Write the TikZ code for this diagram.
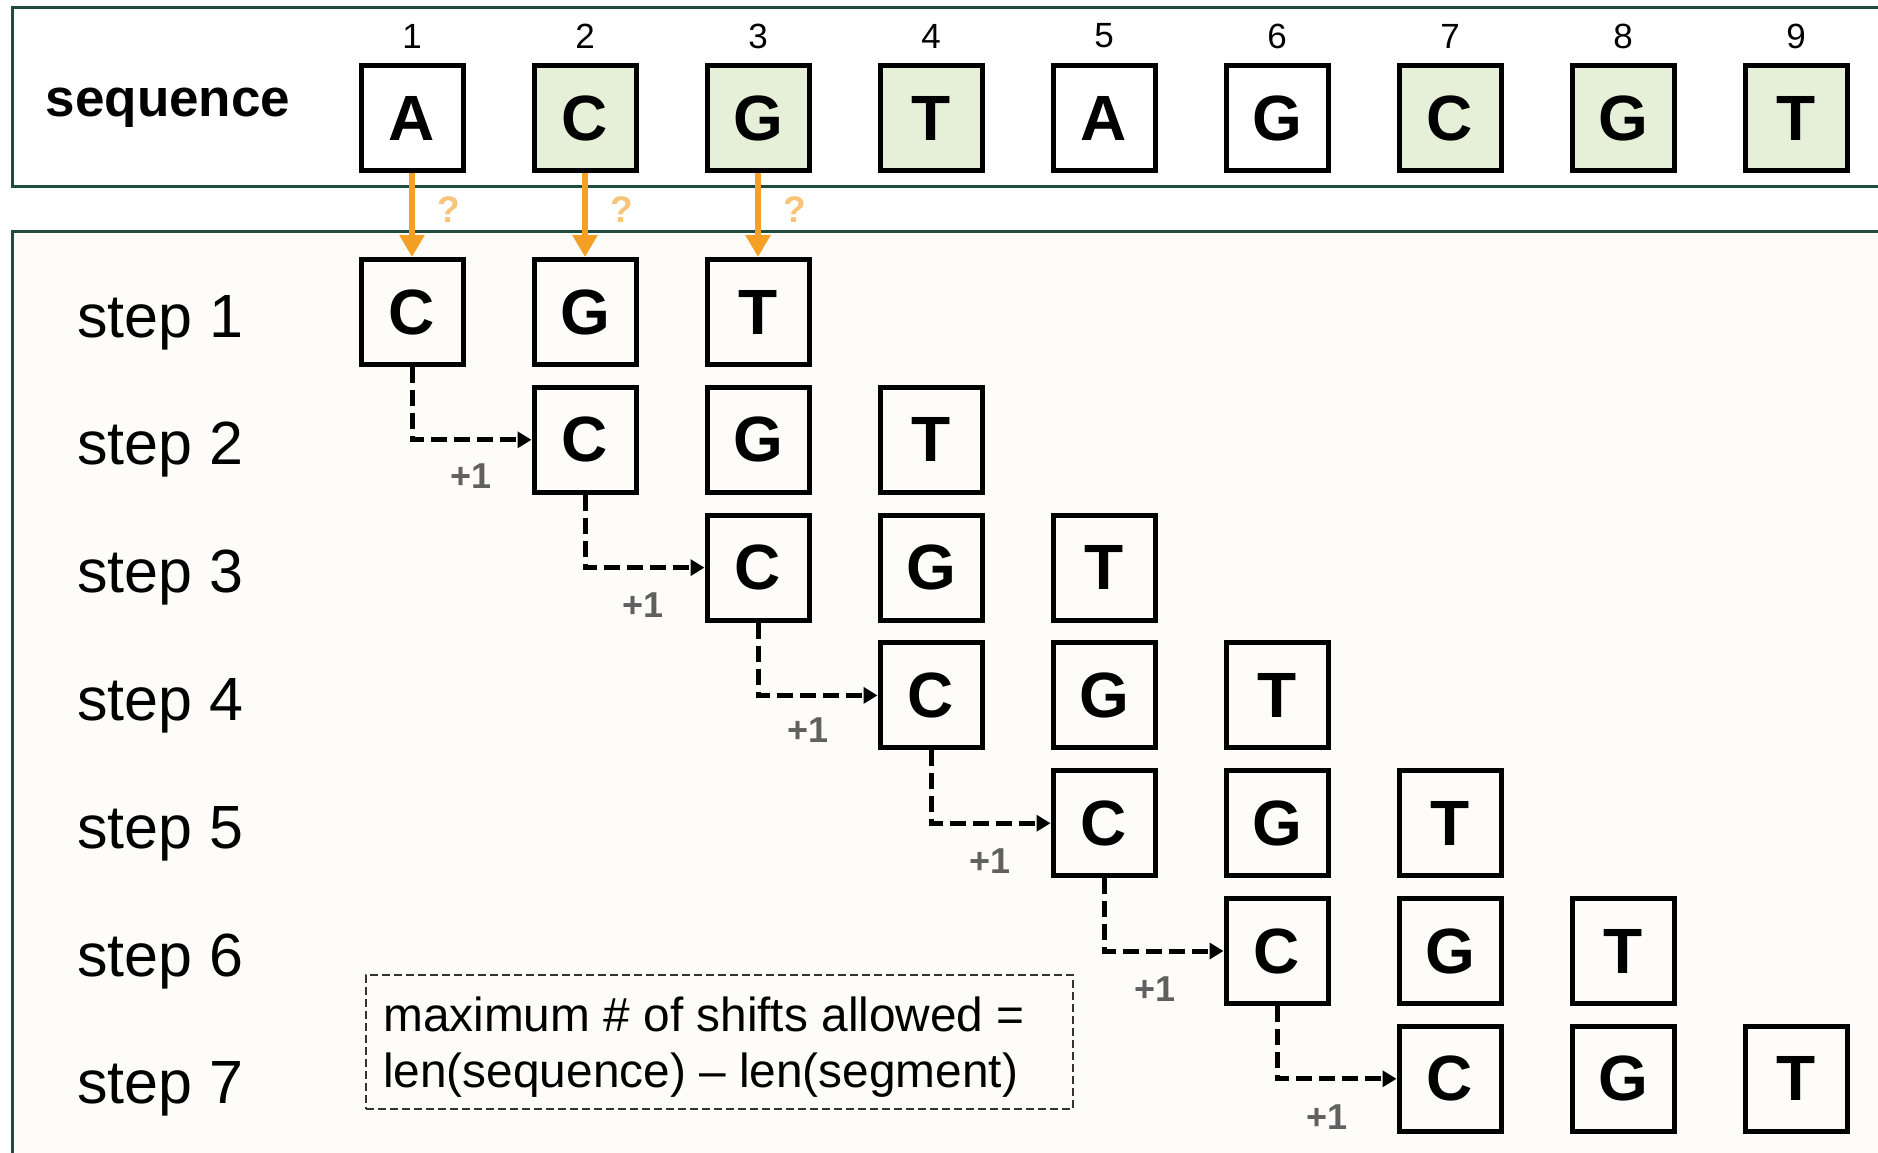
\documentclass[tikz,border=0pt]{standalone}
\usepackage{fontspec}
\setmainfont{Liberation Sans}
\usetikzlibrary{arrows.meta}
\definecolor{framegreen}{HTML}{1E4D3E}
\definecolor{seqgreen}{HTML}{E6F0D8}
\definecolor{cream}{HTML}{FDFCF8}
\definecolor{orangearrow}{HTML}{F4A024}
\definecolor{qmark}{HTML}{F8C478}
\definecolor{plusgray}{HTML}{606060}
\begin{document}
\begin{tikzpicture}[x=1pt,y=-1pt,
  letterbox/.style={draw=black, line width=5pt, minimum width=102pt, minimum height=105pt, inner sep=0pt, font=\fontsize{64}{64}\selectfont\bfseries},
  numlab/.style={font=\fontsize{35}{35}\selectfont, inner sep=0pt},
  steplab/.style={font=\fontsize{61}{61}\selectfont, anchor=base west, inner sep=0pt},
  seqlab/.style={font=\fontsize{53}{53}\selectfont\bfseries, inner sep=0pt, anchor=base},
  qlab/.style={font=\fontsize{37}{37}\selectfont\bfseries, text=qmark, inner sep=0pt},
  pluslab/.style={font=\fontsize{36}{36}\selectfont\bfseries, text=plusgray, inner sep=0pt},
  orangearr/.style={draw=orangearrow, line width=6pt, -{Triangle[length=22pt,width=24pt]}},
  shiftarr/.style={draw=black, line width=5pt, dash pattern=on 16pt off 7pt, -{Triangle[length=14pt,width=16pt]}},
  noteframe/.style={draw=black!80, line width=1.5pt, dash pattern=on 8pt off 4pt, minimum height=134pt, minimum width=707pt, inner sep=0pt, anchor=north west},
  notetext/.style={align=left, inner sep=0pt, font=\fontsize{47.8}{56}\selectfont, anchor=west},
  framebox/.style={draw=framegreen, line width=3pt}
]
\useasboundingbox (0,0) rectangle (1878,1152);
\clip (0,0) rectangle (1878,1152);
\fill[white] (0,0) rectangle (1878,1152);
% frames
\draw[framebox] (12,7) rectangle (1895,186);
\draw[framebox, fill=cream] (12,231) rectangle (1895,1170);
% sequence
\node[seqlab] (seqtitle) at (168,116) {sequence};
\foreach \i/\l/\c in {1/A/white,2/C/seqgreen,3/G/seqgreen,4/T/seqgreen,5/A/white,6/G/white,7/C/seqgreen,8/G/seqgreen,9/T/seqgreen}{
  \node[letterbox, fill=\c] (s\i) at ({412+173*(\i-1)},118) {\l};
  \node[numlab] (n\i) at ({412+173*(\i-1)},36) {\i};
}
% steps
\foreach \k in {1,...,7}{
  \pgfmathsetmacro{\yy}{312+127.8*(\k-1)}
  \pgfmathsetmacro{\xa}{412+173*(\k-1)}
  \node[steplab] (lab\k) at (77,\yy+25) {step \k};
  \node[letterbox, fill=cream] (r\k c) at (\xa,\yy) {C};
  \node[letterbox, fill=cream] (r\k g) at (\xa+173,\yy) {G};
  \node[letterbox, fill=cream] (r\k t) at (\xa+346,\yy) {T};
}
% orange arrows
\draw[orangearr] (s1) -- (r1c);
\draw[orangearr] (s2) -- (r1g);
\draw[orangearr] (s3) -- (r1t);
\foreach \i in {1,2,3}{
  \node[qlab] (q\i) at ({449+173*(\i-1)},210) {?};
}
% shift connectors
\foreach \k [evaluate=\k as \n using int(\k+1)] in {1,...,6}{
  \draw[shiftarr] (r\k c.south) |- (r\n c.west);
}
\foreach \k/\px/\py in {1/471/476,2/643/605,3/808/730,4/990/861,5/1155/989,6/1327/1117}{
  \node[pluslab] (p\k) at (\px,\py) {+1};
}
% note
\node[noteframe] (note) at (365,974) {};
\node[notetext] (notetxt) at ([xshift=18pt,yshift=-5pt]note.west) {maximum \# of shifts allowed =\\len(sequence) – len(segment)};
\end{tikzpicture}
\end{document}
